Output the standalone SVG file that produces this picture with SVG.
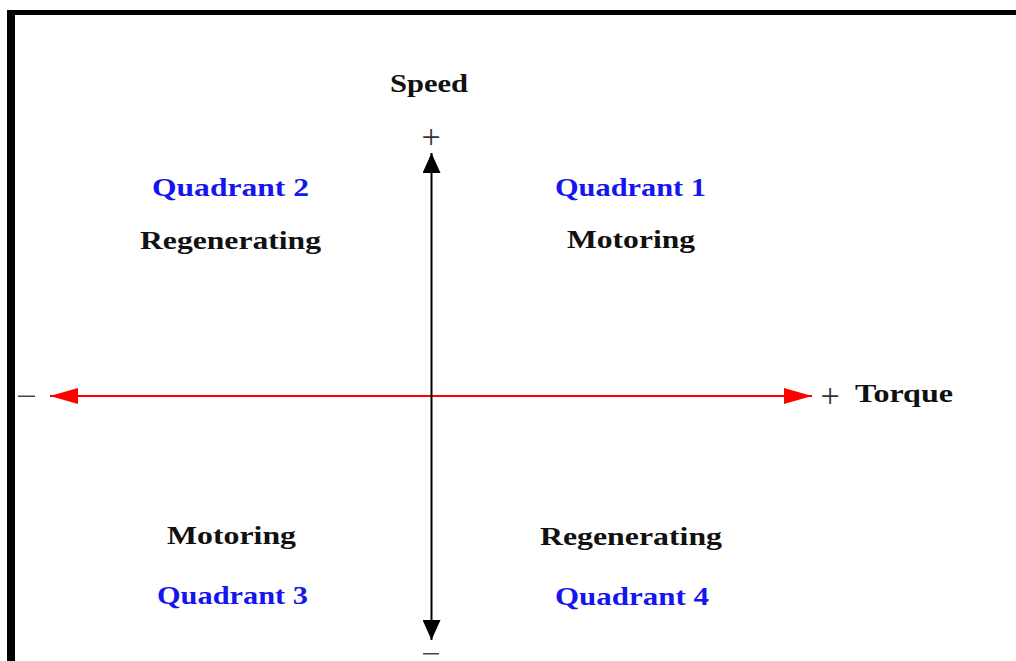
<svg xmlns="http://www.w3.org/2000/svg" width="1016" height="661" viewBox="0 0 1016 661">
<style>
.t{font-family:"Liberation Serif","Times New Roman",serif;font-weight:bold;font-size:26px;fill:#111}
.q{fill:#1515f0}
.s{font-family:"Liberation Serif","Times New Roman",serif;font-size:34px;fill:#333}
</style>
<defs>
<marker id="ab" viewBox="0 0 20 18" refX="20" refY="9" markerWidth="20" markerHeight="18" markerUnits="userSpaceOnUse" orient="auto-start-reverse"><path d="M0,0 L20,9 L0,18 Z" fill="#000"/></marker>
<marker id="ar" viewBox="0 0 28 16" refX="28" refY="8" markerWidth="28" markerHeight="16" markerUnits="userSpaceOnUse" orient="auto-start-reverse"><path d="M0,0 L28,8 L0,16 Z" fill="#f00"/></marker>
</defs>
<rect width="1016" height="661" fill="#fff"/>
<g id="frame">
<rect x="7" y="10" width="1009" height="5" fill="#000"/>
<rect x="7" y="10" width="8" height="651" fill="#000"/>
</g>
<g id="connectors">
<line x1="50" y1="396" x2="812" y2="396" stroke="#f00" stroke-width="2" marker-start="url(#ar)" marker-end="url(#ar)"/>
<line x1="431.5" y1="153" x2="431.5" y2="640" stroke="#000" stroke-width="2" marker-start="url(#ab)" marker-end="url(#ab)"/>
</g>
<g id="axis-labels">
<text class="t" x="429" y="92" text-anchor="middle" textLength="78" lengthAdjust="spacingAndGlyphs">Speed</text>
<text class="t" x="855" y="402" textLength="98" lengthAdjust="spacingAndGlyphs">Torque</text>
<text class="s" x="431" y="148" text-anchor="middle">+</text>
<text class="s" x="830" y="407" text-anchor="middle">+</text>
<rect x="18" y="395.5" width="17" height="1.5" fill="#444"/>
<rect x="423" y="653" width="16" height="1.5" fill="#444"/>
</g>
<g id="q1">
<text class="t q" x="630.5" y="196" text-anchor="middle" textLength="151" lengthAdjust="spacingAndGlyphs">Quadrant 1</text>
<text class="t" x="631" y="248" text-anchor="middle" textLength="128" lengthAdjust="spacingAndGlyphs">Motoring</text>
</g>
<g id="q2">
<text class="t q" x="230.5" y="196" text-anchor="middle" textLength="157" lengthAdjust="spacingAndGlyphs">Quadrant 2</text>
<text class="t" x="230.5" y="249" text-anchor="middle" textLength="181" lengthAdjust="spacingAndGlyphs">Regenerating</text>
</g>
<g id="q3">
<text class="t" x="231.5" y="544" text-anchor="middle" textLength="129" lengthAdjust="spacingAndGlyphs">Motoring</text>
<text class="t q" x="232.5" y="604" text-anchor="middle" textLength="151" lengthAdjust="spacingAndGlyphs">Quadrant 3</text>
</g>
<g id="q4">
<text class="t" x="631" y="545" text-anchor="middle" textLength="182" lengthAdjust="spacingAndGlyphs">Regenerating</text>
<text class="t q" x="632" y="605" text-anchor="middle" textLength="154" lengthAdjust="spacingAndGlyphs">Quadrant 4</text>
</g>
</svg>
